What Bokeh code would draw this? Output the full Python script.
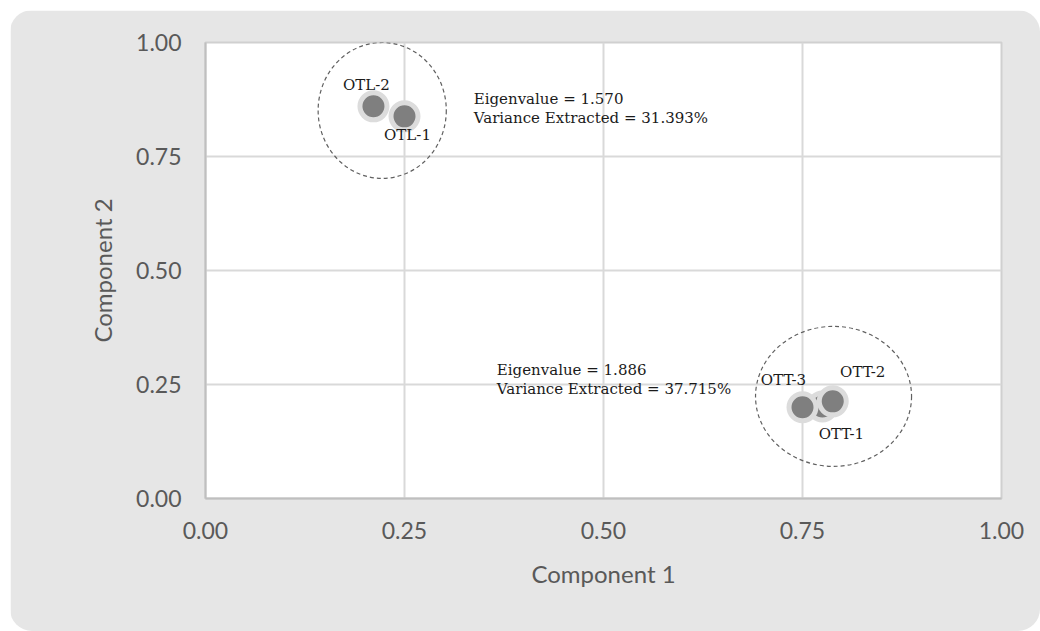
from bokeh.plotting import figure
from bokeh.models import ColumnDataSource, Range1d, FixedTicker, NumeralTickFormatter
from bokeh.core.properties import value
from bokeh.embed import file_html
from bokeh.resources import INLINE

# ---- data ----
labels = ["OTT-1", "OTL-2", "OTL-1", "OTT-3", "OTT-2"]
comp1 = [0.775, 0.211, 0.250, 0.750, 0.788]
comp2 = [0.202, 0.860, 0.838, 0.200, 0.213]

cluster_x = [0.222, 0.789]
cluster_y = [0.851, 0.224]
cluster_w = [0.161, 0.196]
cluster_h = [0.298, 0.307]

note_lines = [
    ["Eigenvalue = 1.570", "Variance Extracted = 31.393%"],
    ["Eigenvalue = 1.886", "Variance Extracted = 37.715%"],
]
note_x = [0.337, 0.366]
note_y = [0.877, 0.282]

ticks = [0.0, 0.25, 0.5, 0.75, 1.0]

# label pixel offsets (layout)
lab_dx = [19, -7, 3, -19, 30]
lab_dy = [28, -21, 19, -27, -29]

W, H = 1030, 621
p = figure(width=W, height=H, output_backend="svg", toolbar_location=None,
           x_range=Range1d(0, 1), y_range=Range1d(0, 1),
           frame_width=796, frame_height=456,
           min_border_left=195, min_border_right=39,
           min_border_top=32, min_border_bottom=133)
p.styles = {"border-radius": "22px", "overflow": "hidden",
            "margin-left": "10px", "margin-top": "10px"}

p.background_fill_color = "white"
p.border_fill_color = "#e6e6e6"
p.outline_line_color = "#d0d0d0"
p.outline_line_width = 2

for ax in (p.xaxis[0], p.yaxis[0]):
    ax.ticker = FixedTicker(ticks=ticks)
    ax.formatter = NumeralTickFormatter(format="0.00")
    ax.major_tick_line_color = None
    ax.minor_tick_line_color = None
    ax.axis_line_color = "#bfbfbf"
    ax.axis_line_width = 2
    ax.major_label_text_font = "Lato"
    ax.major_label_text_font_size = "23px"
    ax.major_label_text_color = "#595959"
    ax.axis_label_text_font = "Lato"
    ax.axis_label_text_font_size = "24px"
    ax.axis_label_text_color = "#595959"
    ax.axis_label_text_font_style = "normal"

p.xaxis.major_label_standoff = 17
p.yaxis.major_label_standoff = 18
p.xaxis.axis_label = "Component 1"
p.yaxis.axis_label = "Component 2"
p.xaxis.axis_label_standoff = 17
p.yaxis.axis_label_standoff = 16

p.grid.ticker = FixedTicker(ticks=ticks)
p.grid.grid_line_color = "#d9d9d9"
p.grid.grid_line_width = 2

# clusters
p.ellipse(x=cluster_x, y=cluster_y, width=cluster_w, height=cluster_h,
          fill_color=None, line_color="#606060", line_width=1.2, line_dash="4 3")

# points
src = ColumnDataSource(dict(x=comp1, y=comp2, lab=labels, dx=lab_dx, dy=lab_dy))
p.scatter("x", "y", source=src, size=27, fill_color="#7f7f7f",
          line_color="#dcdcdc", line_width=5)
p.text("x", "y", text="lab", source=src, x_offset="dx", y_offset="dy",
       text_font=value("DejaVu Serif"), text_font_size="15px",
       text_color="#1a1a1a", text_align="center", text_baseline="middle")

# annotations
nx, ny, nt, noff = [], [], [], []
for i, lines in enumerate(note_lines):
    for j, t in enumerate(lines):
        nx.append(note_x[i]); ny.append(note_y[i]); nt.append(t); noff.append(j * 19)
p.text(x=nx, y=ny, text=nt, y_offset=noff,
       text_font=value("DejaVu Serif"), text_font_size="15px",
       text_color="#1a1a1a", text_align="left", text_baseline="middle")

open("out.html", "w").write(file_html(p, INLINE))
